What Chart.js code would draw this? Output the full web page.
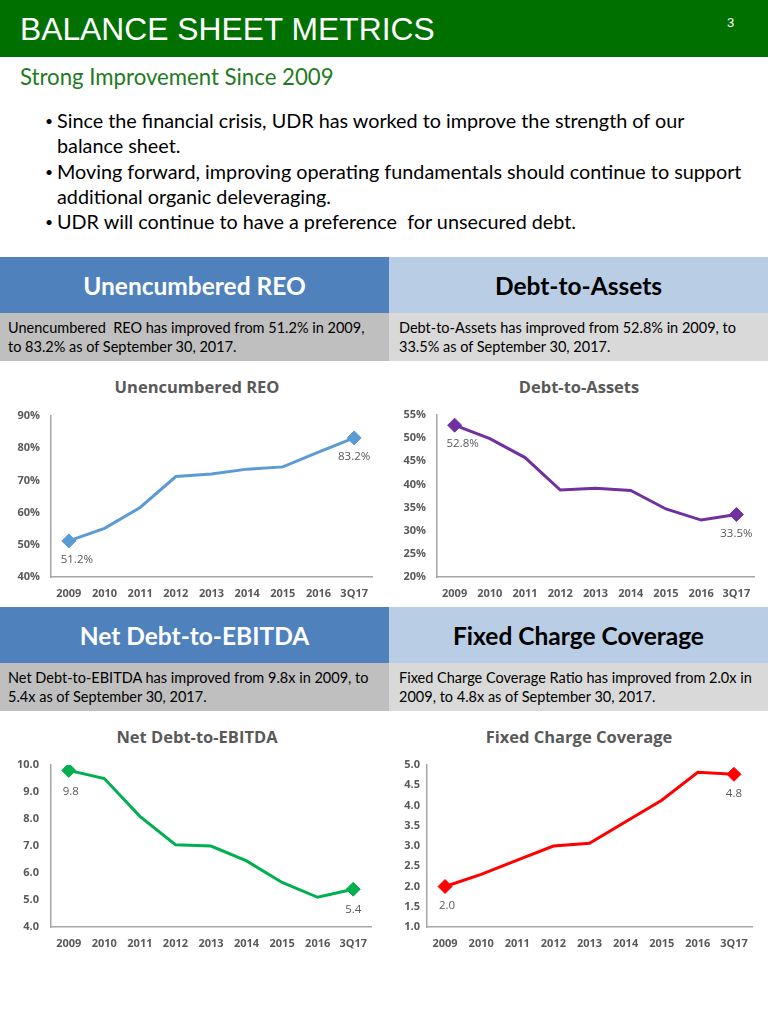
<!DOCTYPE html>
<html><head><meta charset="utf-8">
<script src="https://cdn.jsdelivr.net/npm/chart.js@4.4.1/dist/chart.umd.min.js"></script>
<style>
html,body{margin:0;padding:0}
body{width:768px;height:1018px;position:relative;background:#fff;overflow:hidden;font-family:Lato,"Open Sans",sans-serif}
.a{position:absolute}
#hdr{left:0;top:0;width:768px;height:57px;background:#007000}
#ttl{left:20px;top:9px;color:#fff;font-family:"Liberation Sans",Arial,sans-serif;font-size:31.8px;line-height:40px;white-space:nowrap}
#pg{left:727px;top:15px;color:#fff;font-family:"Liberation Sans",Arial,sans-serif;font-size:13px}
#sub{left:20px;top:63px;color:#1E7B1E;font-size:22.2px;line-height:28px;white-space:nowrap}
#bul{left:45px;top:108px;width:720px;color:#000;font-size:19.8px;line-height:25.3px;white-space:nowrap}
#bul div{position:relative;padding-left:12px}
#bul div:before{content:"\2022";position:absolute;left:0;top:0;font-size:14px}
.hb{height:56px;display:flex;align-items:center;justify-content:center;font-weight:bold;font-size:24.5px}
.hl{left:0;width:389px;background:#4F81BD;color:#fff}
.hr{left:389px;width:379px;background:#B9CDE5;color:#000}
.db{height:48px;font-size:14.5px;line-height:19px;color:#000;box-sizing:border-box;padding:5px 8px 0 8px;white-space:nowrap}
.dl{left:0;width:389px;background:#BFBFBF}
.dr{left:389px;width:379px;background:#D9D9D9;padding-left:10px}
.ct{width:300px;text-align:center;color:#595959;font-weight:bold;font-size:16.5px;line-height:20px;font-family:"Open Sans",sans-serif}
canvas{position:absolute}
</style></head>
<body>
<div class="a" id="hdr"></div>
<div class="a" id="ttl">BALANCE SHEET METRICS</div>
<div class="a" id="pg">3</div>
<div class="a" id="sub">Strong Improvement Since 2009</div>
<div class="a" id="bul">
<div>Since the financial crisis, UDR has worked to improve the strength of our<br>balance sheet.</div>
<div>Moving forward, improving operating fundamentals should continue to support<br>additional organic deleveraging.</div>
<div>UDR will continue to have a preference &nbsp;for unsecured debt.</div>
</div>

<div class="a hb hl" style="top:257px">Unencumbered REO</div>
<div class="a hb hr" style="top:257px">Debt-to-Assets</div>
<div class="a db dl" style="top:313px">Unencumbered &nbsp;REO has improved from 51.2% in 2009,<br>to 83.2% as of September 30, 2017.</div>
<div class="a db dr" style="top:313px">Debt-to-Assets has improved from 52.8% in 2009, to<br>33.5% as of September 30, 2017.</div>

<div class="a hb hl" style="top:607px">Net Debt-to-EBITDA</div>
<div class="a hb hr" style="top:607px">Fixed Charge Coverage</div>
<div class="a db dl" style="top:663px">Net Debt-to-EBITDA has improved from 9.8x in 2009, to<br>5.4x as of September 30, 2017.</div>
<div class="a db dr" style="top:663px">Fixed Charge Coverage Ratio has improved from 2.0x in<br>2009, to 4.8x as of September 30, 2017.</div>

<div class="a ct" style="left:47px;top:377px">Unencumbered REO</div>
<div class="a ct" style="left:429px;top:377px">Debt-to-Assets</div>
<div class="a ct" style="left:47px;top:727px">Net Debt-to-EBITDA</div>
<div class="a ct" style="left:429px;top:727px">Fixed Charge Coverage</div>

<canvas id="c1" width="384" height="216" style="left:0;top:391px"></canvas>
<canvas id="c2" width="384" height="217" style="left:384px;top:390px"></canvas>
<canvas id="c3" width="384" height="217" style="left:0;top:740px"></canvas>
<canvas id="c4" width="384" height="217" style="left:384px;top:740px"></canvas>

<script>
// ---- data ----
const categories = ['2009','2010','2011','2012','2013','2014','2015','2016','3Q17'];
const unencumberedREO = [51.2, 55.1, 61.6, 71.2, 72.0, 73.5, 74.2, 78.8, 83.2];
const debtToAssets = [52.8, 49.9, 45.8, 38.8, 39.2, 38.7, 34.7, 32.3, 33.5];
const netDebtToEBITDA = [9.8, 9.5, 8.1, 7.05, 7.0, 6.45, 5.65, 5.1, 5.4];
const fixedChargeCoverage = [2.0, 2.3, 2.65, 3.0, 3.07, 3.6, 4.13, 4.82, 4.77];

const yTicksREO = {min:40, max:90, step:10};
const yTicksDTA = {min:20, max:55, step:5};
const yTicksEBITDA = {min:4, max:10, step:1};
const yTicksFCC = {min:1, max:5, step:0.5};

const pct = v => v.toFixed(1) + '%';
const dec = v => v.toFixed(1);

const endLabels = {
  id: 'endLabels',
  afterDatasetsDraw(chart, args, opts) {
    const meta = chart.getDatasetMeta(0);
    const data = chart.data.datasets[0].data;
    const ctx = chart.ctx;
    ctx.save();
    ctx.font = '11.5px "Open Sans", sans-serif';
    ctx.fillStyle = '#595959';
    ctx.textAlign = 'center';
    ctx.textBaseline = 'middle';
    [0, data.length - 1].forEach((i, k) => {
      const p = meta.data[i];
      ctx.fillText(opts.fmt(data[i]), p.x + (k === 0 ? opts.dx : 0), p.y + opts.dy);
    });
    ctx.restore();
  }
};

function makeChart(id, values, color, yt, fmt, tickFmt, yWidth, yPad, padRight, dx, dy) {
  const last = values.length - 1;
  const r = c => (c.dataIndex === 0 || c.dataIndex === last) ? 7 : 0;
  new Chart(document.getElementById(id), {
    type: 'line',
    data: {
      labels: categories,
      datasets: [{
        data: values,
        borderColor: color,
        backgroundColor: color,
        borderWidth: 3,
        tension: 0,
        pointStyle: 'rectRot',
        pointRadius: r,
        pointHoverRadius: r,
        pointBorderWidth: 1,
        pointBackgroundColor: color,
        pointBorderColor: color,
        fill: false
      }]
    },
    options: {
      responsive: false,
      animation: false,
      devicePixelRatio: 1,
      layout: { padding: { left: 0, right: padRight, top: 25, bottom: 5 } },
      plugins: {
        legend: { display: false },
        tooltip: { enabled: false },
        endLabels: { fmt: fmt, dx: dx, dy: dy }
      },
      scales: {
        x: {
          offset: true,
          grid: { display: false, drawTicks: false },
          border: { display: true, color: '#A6A6A6', width: 1.5 },
          ticks: { color: '#595959', font: { family: '"Open Sans", sans-serif', size: 11, weight: 'bold' }, padding: 10, maxRotation: 0, autoSkip: false },
          afterFit: s => { s.height = 25; }
        },
        y: {
          min: yt.min, max: yt.max,
          grid: { display: false, drawTicks: false },
          border: { display: true, color: '#A6A6A6', width: 1.5 },
          ticks: { stepSize: yt.step, color: '#595959', font: { family: '"Open Sans", sans-serif', size: 11, weight: 'bold' }, padding: yPad, callback: tickFmt },
          afterFit: s => { s.width = yWidth; }
        }
      }
    },
    plugins: [endLabels]
  });
}

makeChart('c1', unencumberedREO, '#5B9BD5', yTicksREO, pct, v => v + '%', 51, 11, 12, 8, 19);
makeChart('c2', debtToAssets, '#7030A0', yTicksDTA, pct, v => v + '%', 53, 11, 14, 8, 19);
makeChart('c3', netDebtToEBITDA, '#00B050', yTicksEBITDA, dec, v => v.toFixed(1), 51, 12, 13, 2, 21);
makeChart('c4', fixedChargeCoverage, '#FF0000', yTicksFCC, dec, v => v.toFixed(1), 43, 7, 16, 2, 19);
</script>
</body></html>
